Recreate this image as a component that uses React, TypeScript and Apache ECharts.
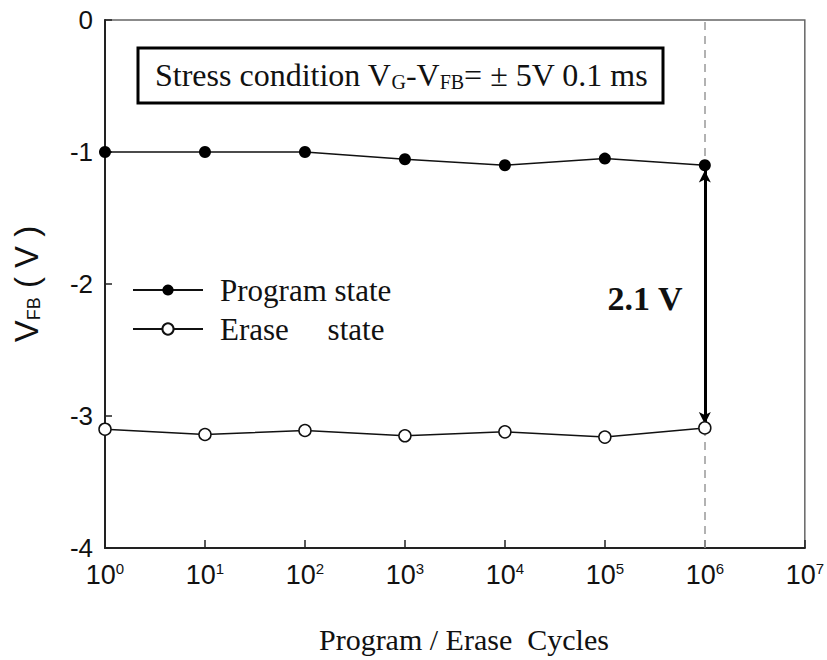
import React, { useEffect, useRef } from "react";
import * as echarts from "echarts";

const cycles = [1, 10, 100, 1000, 10000, 100000, 1000000];
const programState = [-1.0, -1.0, -1.0, -1.055, -1.1, -1.05, -1.1];
const eraseState = [-3.1, -3.14, -3.11, -3.15, -3.12, -3.16, -3.09];
const yTicks = { min: -4, max: 0, interval: 1 };
const xRange = { min: 1, max: 10000000 };
const arrowX = 1000000;
const arrowFrom = -1.14;
const arrowTo = -3.06;

const SERIF = "'Liberation Serif', 'Times New Roman', serif";
const SANS = "'Liberation Sans', Arial, sans-serif";

export default function App() {
  const ref = useRef<HTMLDivElement>(null);
  useEffect(() => {
    if (!ref.current) return;
    const chart = echarts.init(ref.current, null, { renderer: "svg" });
    const zip = (ys: number[]) => cycles.map((c, i) => [c, ys[i]]);
    chart.setOption({
      animation: false,
      backgroundColor: "#fff",
      grid: {
        left: 105,
        right: 22,
        top: 20,
        bottom: 112,
        show: true,
        borderColor: "#666",
        borderWidth: 1.5,
        backgroundColor: "transparent",
      },
      legend: {
        orient: "vertical",
        left: 132,
        top: 273,
        padding: 0,
        itemWidth: 70,
        itemHeight: 14,
        itemGap: 5,
        textStyle: {
          fontFamily: SERIF,
          fontSize: 31,
          color: "#111",
          lineHeight: 34,
          padding: [0, 0, 0, 12],
        },
        data: ["Program state", "Erase     state"],
      },
      xAxis: {
        type: "log",
        logBase: 10,
        min: xRange.min,
        max: xRange.max,
        name: "Program / Erase  Cycles",
        nameLocation: "middle",
        nameGap: 76,
        nameTextStyle: { fontFamily: SERIF, fontSize: 30, color: "#111", padding: [0, 0, 0, 18] },
        axisLine: { onZero: false, lineStyle: { color: "#222", width: 2 } },
        axisTick: { inside: true, length: 8, lineStyle: { color: "#222", width: 1.5 } },
        splitLine: { show: false },
        minorTick: { show: false },
        axisLabel: {
          margin: 13,
          fontFamily: SANS,
          fontSize: 27,
          color: "#111",
          formatter: (v: number) => `10{sup|${Math.round(Math.log10(v))}}`,
          rich: {
            sup: { fontFamily: SANS, fontSize: 15, color: "#111", padding: [0, 0, 12, 0] },
          },
        },
      },
      yAxis: {
        type: "value",
        min: yTicks.min,
        max: yTicks.max,
        interval: yTicks.interval,
        name: "V{sub|FB} ( V )",
        nameLocation: "middle",
        nameRotate: 90,
        nameGap: 62,
        nameTextStyle: {
          fontFamily: SANS,
          fontSize: 33,
          color: "#111",
          rich: {
            sub: { fontFamily: SANS, fontSize: 18, color: "#111", padding: [14, 0, 0, 0] },
          },
        },
        axisLine: { show: true, onZero: false, lineStyle: { color: "#222", width: 2 } },
        axisTick: { show: true, inside: true, length: 7, lineStyle: { color: "#222", width: 1.5 } },
        splitLine: { show: false },
        axisLabel: { margin: 12, fontFamily: SANS, fontSize: 26, color: "#111" },
      },
      series: [
        {
          name: "Program state",
          type: "line",
          data: zip(programState),
          symbol: "circle",
          symbolSize: 12,
          lineStyle: { color: "#111", width: 1.5 },
          itemStyle: { color: "#000" },
          z: 5,
          markLine: {
            silent: true,
            symbol: ["none", "none"],
            label: { show: false },
            lineStyle: { color: "#999", width: 1.5, type: [8, 6] },
            data: [{ xAxis: arrowX }],
          },
        },
        {
          name: "Erase     state",
          type: "line",
          data: zip(eraseState),
          symbol: "circle",
          symbolSize: 12,
          lineStyle: { color: "#111", width: 1.5 },
          itemStyle: { color: "#fff", borderColor: "#111", borderWidth: 1.5 },
          z: 6,
          markLine: {
            silent: true,
            symbol: ["arrow", "arrow"],
            symbolSize: [9, 12],
            label: { show: false },
            lineStyle: { color: "#000", width: 3, type: "solid" },
            data: [[{ coord: [arrowX, arrowFrom] }, { coord: [arrowX, arrowTo] }]],
          },
        },
      ],
      graphic: [
        {
          type: "rect",
          shape: { x: 138, y: 48, width: 525, height: 55 },
          style: { fill: "#fff", stroke: "#000", lineWidth: 3 },
          z: 10,
        },
        {
          type: "text",
          x: 155,
          y: 75,
          z: 11,
          style: {
            text: "Stress condition V{sub|G}-V{sub|FB}= ± 5V 0.1 ms",
            fontFamily: SERIF,
            fontSize: 32,
            fill: "#111",
            verticalAlign: "middle",
            rich: {
              sub: { fontFamily: SERIF, fontSize: 20, fill: "#111", padding: [14, 0, 0, 0] },
            },
          },
        },
        {
          type: "text",
          x: 645,
          y: 298,
          z: 11,
          style: {
            text: "2.1 V",
            fontFamily: SERIF,
            fontSize: 34,
            fontWeight: "bold",
            fill: "#111",
            align: "center",
            verticalAlign: "middle",
          },
        },
      ],
    });
    return () => chart.dispose();
  }, []);
  return (
    <div
      ref={ref}
      style={{ position: "fixed", left: 0, top: 0, width: 827, height: 660 }}
    />
  );
}
